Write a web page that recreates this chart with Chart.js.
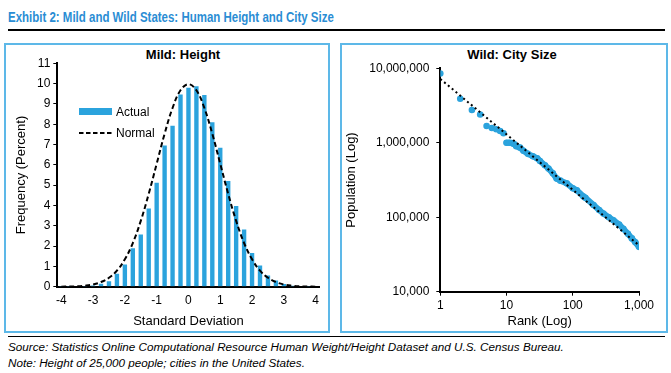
<!DOCTYPE html>
<html>
<head>
<meta charset="utf-8">
<script src="https://cdn.jsdelivr.net/npm/chart.js@4.4.1/dist/chart.umd.min.js"></script>
<style>
  body { margin: 0; width: 671px; height: 373px; background: #fff; position: relative; overflow: hidden;
         font-family: "Liberation Sans", Arial, sans-serif; color: #000; }
  .abs { position: absolute; }
  #title { left: 8px; top: 9px; font: bold 14px "Liberation Sans", sans-serif; color: #2a8dd4; white-space: nowrap;
           transform: scaleX(0.82); transform-origin: 0 0; }
  .rule { left: 8px; width: 657px; height: 0; }
  .panel { border: 2px solid #5db8e8; box-sizing: border-box; }
  .ptitle { font: bold 13px "Liberation Sans", sans-serif; line-height: 15px; white-space: nowrap; transform: translateX(-50%); }
  .lg { font: 12px "Liberation Sans", sans-serif; line-height: 14px; }
  .note { left: 8px; font: italic 11.7px "Liberation Sans", sans-serif; line-height: 13px; white-space: nowrap; }
</style>
</head>
<body>
<div id="title" class="abs">Exhibit 2: Mild and Wild States: Human Height and City Size</div>
<div class="abs rule" style="top:29px; border-top:2px solid #000;"></div>

<div class="abs panel" style="left:4px; top:43px; width:326px; height:290px;"></div>
<div class="abs panel" style="left:340px; top:43px; width:328px; height:290px;"></div>

<div class="abs ptitle" style="left:183px; top:47px;">Mild: Height</div>
<div class="abs ptitle" style="left:512px; top:47px;">Wild: City Size</div>

<canvas id="heightChart" class="abs" width="320" height="285" style="left:6px; top:45px;"></canvas>
<canvas id="cityChart" class="abs" width="323" height="285" style="left:343px; top:45px;"></canvas>

<!-- legend for the height panel -->
<div class="abs" style="left:79px; top:108px; width:33px; height:7px; background:#2ba3dd;"></div>
<div class="abs lg" style="left:116px; top:105px;">Actual</div>
<svg class="abs" style="left:79px; top:131px;" width="34" height="4"><line x1="0" y1="2" x2="33" y2="2" stroke="#000" stroke-width="2" stroke-dasharray="4.5 2.5"/></svg>
<div class="abs lg" style="left:116px; top:126px;">Normal</div>

<div class="abs rule" style="top:336px; border-top:1.5px solid #000;"></div>
<div class="abs note" style="top:340px;">Source: Statistics Online Computational Resource Human Weight/Height Dataset and U.S. Census Bureau.</div>
<div class="abs note" style="top:356px;">Note: Height of 25,000 people; cities in the United States.</div>

<script>
// left panel: distribution of heights in 0.25 standard deviation bins
const sdCategories = ['-4', '-3.75', '-3.5', '-3.25', '-3', '-2.75', '-2.5', '-2.25', '-2', '-1.75', '-1.5', '-1.25',
  '-1', '-0.75', '-0.5', '-0.25', '0', '0.25', '0.5', '0.75', '1', '1.25', '1.5', '1.75',
  '2', '2.25', '2.5', '2.75', '3', '3.25', '3.5', '3.75', '4'];
const actualPct = [0.01, 0.01, 0.02, 0.03, 0.06, 0.15, 0.27, 0.64, 1.09, 1.89, 2.57, 3.85,
  5.12, 6.95, 7.92, 9.46, 9.80, 9.87, 9.44, 8.10, 6.84, 5.21, 3.97, 2.82,
  1.66, 1.04, 0.55, 0.31, 0.13, 0.05, 0.02, 0.01, 0.00];
const normalPct = [0.00, 0.01, 0.02, 0.05, 0.11, 0.23, 0.44, 0.79, 1.35, 2.15, 3.24, 4.57,
  6.05, 7.53, 8.80, 9.67, 9.97, 9.67, 8.80, 7.53, 6.05, 4.57, 3.24, 2.15,
  1.35, 0.79, 0.44, 0.23, 0.11, 0.05, 0.02, 0.01, 0.00];

// right panel: US city population by rank (log-log)
const topRanks = [1, 2, 3, 4, 5, 6, 7, 8, 9];
const topPops = [8500000, 3900000, 2750000, 2400000, 1680000, 1580000, 1520000, 1440000, 1340000];
const bandRanks = [10, 11, 12, 13, 14, 16, 18, 21, 25, 29, 32, 38, 43, 50, 57, 65, 81, 100, 115, 145,
  155, 206, 250, 290, 350, 410, 500, 580, 680, 780, 880, 1000];
const bandPops = [1000000, 1000000, 990000, 960000, 900000, 860000, 780000, 710000, 660000, 620000,
  570000, 500000, 450000, 390000, 330000, 310000, 285000, 245000, 230000, 190000,
  183000, 146000, 125000, 112000, 100000, 91000, 80000, 70000, 60000, 52000, 46000, 40000];
const trendRanks = [1, 1000];
const trendPops = [7200000, 42000];
const rankTicks = [1, 10, 100, 1000];
const popTicks = [10000, 100000, 1000000, 10000000];

const BLUE = '#2ba3dd';
const tickFont = { family: 'Liberation Sans', size: 12 };
const titleFont = { family: 'Liberation Sans', size: 13 };

const toPoints = (xs, ys) => xs.map((x, i) => ({ x: x, y: ys[i] }));

new Chart(document.getElementById('heightChart'), {
  type: 'bar',
  data: {
    labels: sdCategories,
    datasets: [
      {
        type: 'line',
        data: normalPct,
        borderColor: '#000',
        borderWidth: 2,
        borderDash: [5, 3],
        pointRadius: 0,
        tension: 0.4,
        order: 0
      },
      {
        data: actualPct,
        backgroundColor: BLUE,
        categoryPercentage: 1,
        barPercentage: 0.55,
        order: 1
      }
    ]
  },
  options: {
    responsive: false,
    animation: false,
    layout: { padding: { left: 0, right: 1.3, top: 18.3, bottom: 0 } },
    plugins: { legend: { display: false }, tooltip: { enabled: false } },
    scales: {
      x: {
        grid: { display: false, drawTicks: false },
        border: { color: '#000', width: 2 },
        ticks: {
          autoSkip: false, maxRotation: 0, padding: 7, color: '#000', font: tickFont,
          callback: (v, i) => (i % 4 === 0 ? sdCategories[i] : '')
        },
        title: { display: true, text: 'Standard Deviation', color: '#000', font: titleFont, padding: { top: 0, bottom: 1.2 } },
        afterFit: (s) => { s.height = 43.3; }
      },
      y: {
        min: 0,
        max: 11,
        grid: { drawOnChartArea: false, drawTicks: true, tickLength: 4, color: '#000', lineWidth: 1 },
        border: { color: '#000', width: 2 },
        ticks: { stepSize: 1, padding: 3, color: '#000', font: tickFont },
        title: { display: true, text: 'Frequency (Percent)', color: '#000', font: titleFont, padding: { top: 8, bottom: 0 } },
        afterFit: (s) => { s.width = 51.3; }
      }
    }
  }
});

new Chart(document.getElementById('cityChart'), {
  type: 'scatter',
  data: {
    datasets: [
      {
        data: toPoints(trendRanks, trendPops),
        showLine: true,
        borderColor: '#000',
        borderWidth: 2,
        borderDash: [2, 3],
        pointRadius: 0,
        order: 0
      },
      {
        data: toPoints(bandRanks, bandPops),
        showLine: true,
        borderColor: BLUE,
        borderWidth: 6,
        borderCapStyle: 'round',
        borderJoinStyle: 'round',
        pointRadius: 3.3,
        pointBorderWidth: 0,
        pointBackgroundColor: BLUE,
        order: 1
      },
      {
        data: toPoints(topRanks, topPops),
        pointRadius: 3.3,
        pointBorderWidth: 0,
        pointBackgroundColor: BLUE,
        order: 2
      }
    ]
  },
  options: {
    responsive: false,
    animation: false,
    layout: { padding: { left: 0, right: 27, top: 23.3, bottom: 0 } },
    plugins: { legend: { display: false }, tooltip: { enabled: false } },
    scales: {
      x: {
        type: 'logarithmic',
        min: 1,
        max: 1000,
        afterBuildTicks: (s) => { s.ticks = rankTicks.map(v => ({ value: v })); },
        grid: { drawOnChartArea: false, drawTicks: true, tickLength: 4, color: '#000', lineWidth: 1 },
        border: { color: '#000', width: 2 },
        ticks: {
          autoSkip: false, maxRotation: 0, padding: 3, color: '#000', font: tickFont,
          callback: (v) => Number(v).toLocaleString('en-US')
        },
        title: { display: true, text: 'Rank (Log)', color: '#000', font: titleFont, padding: { top: 0, bottom: 0.5 } },
        afterFit: (s) => { s.height = 38.3; }
      },
      y: {
        type: 'logarithmic',
        min: 10000,
        max: 10000000,
        afterBuildTicks: (s) => { s.ticks = popTicks.map(v => ({ value: v })); },
        grid: { drawOnChartArea: false, drawTicks: true, tickLength: 4, color: '#000', lineWidth: 1 },
        border: { color: '#000', width: 2 },
        ticks: {
          autoSkip: false, padding: 7, color: '#000', font: tickFont,
          callback: (v) => Number(v).toLocaleString('en-US')
        },
        title: { display: true, text: 'Population (Log)', color: '#000', font: titleFont, padding: { top: 0.9, bottom: 0 } },
        afterFit: (s) => { s.width = 97.3; }
      }
    }
  }
});
</script>
</body>
</html>
